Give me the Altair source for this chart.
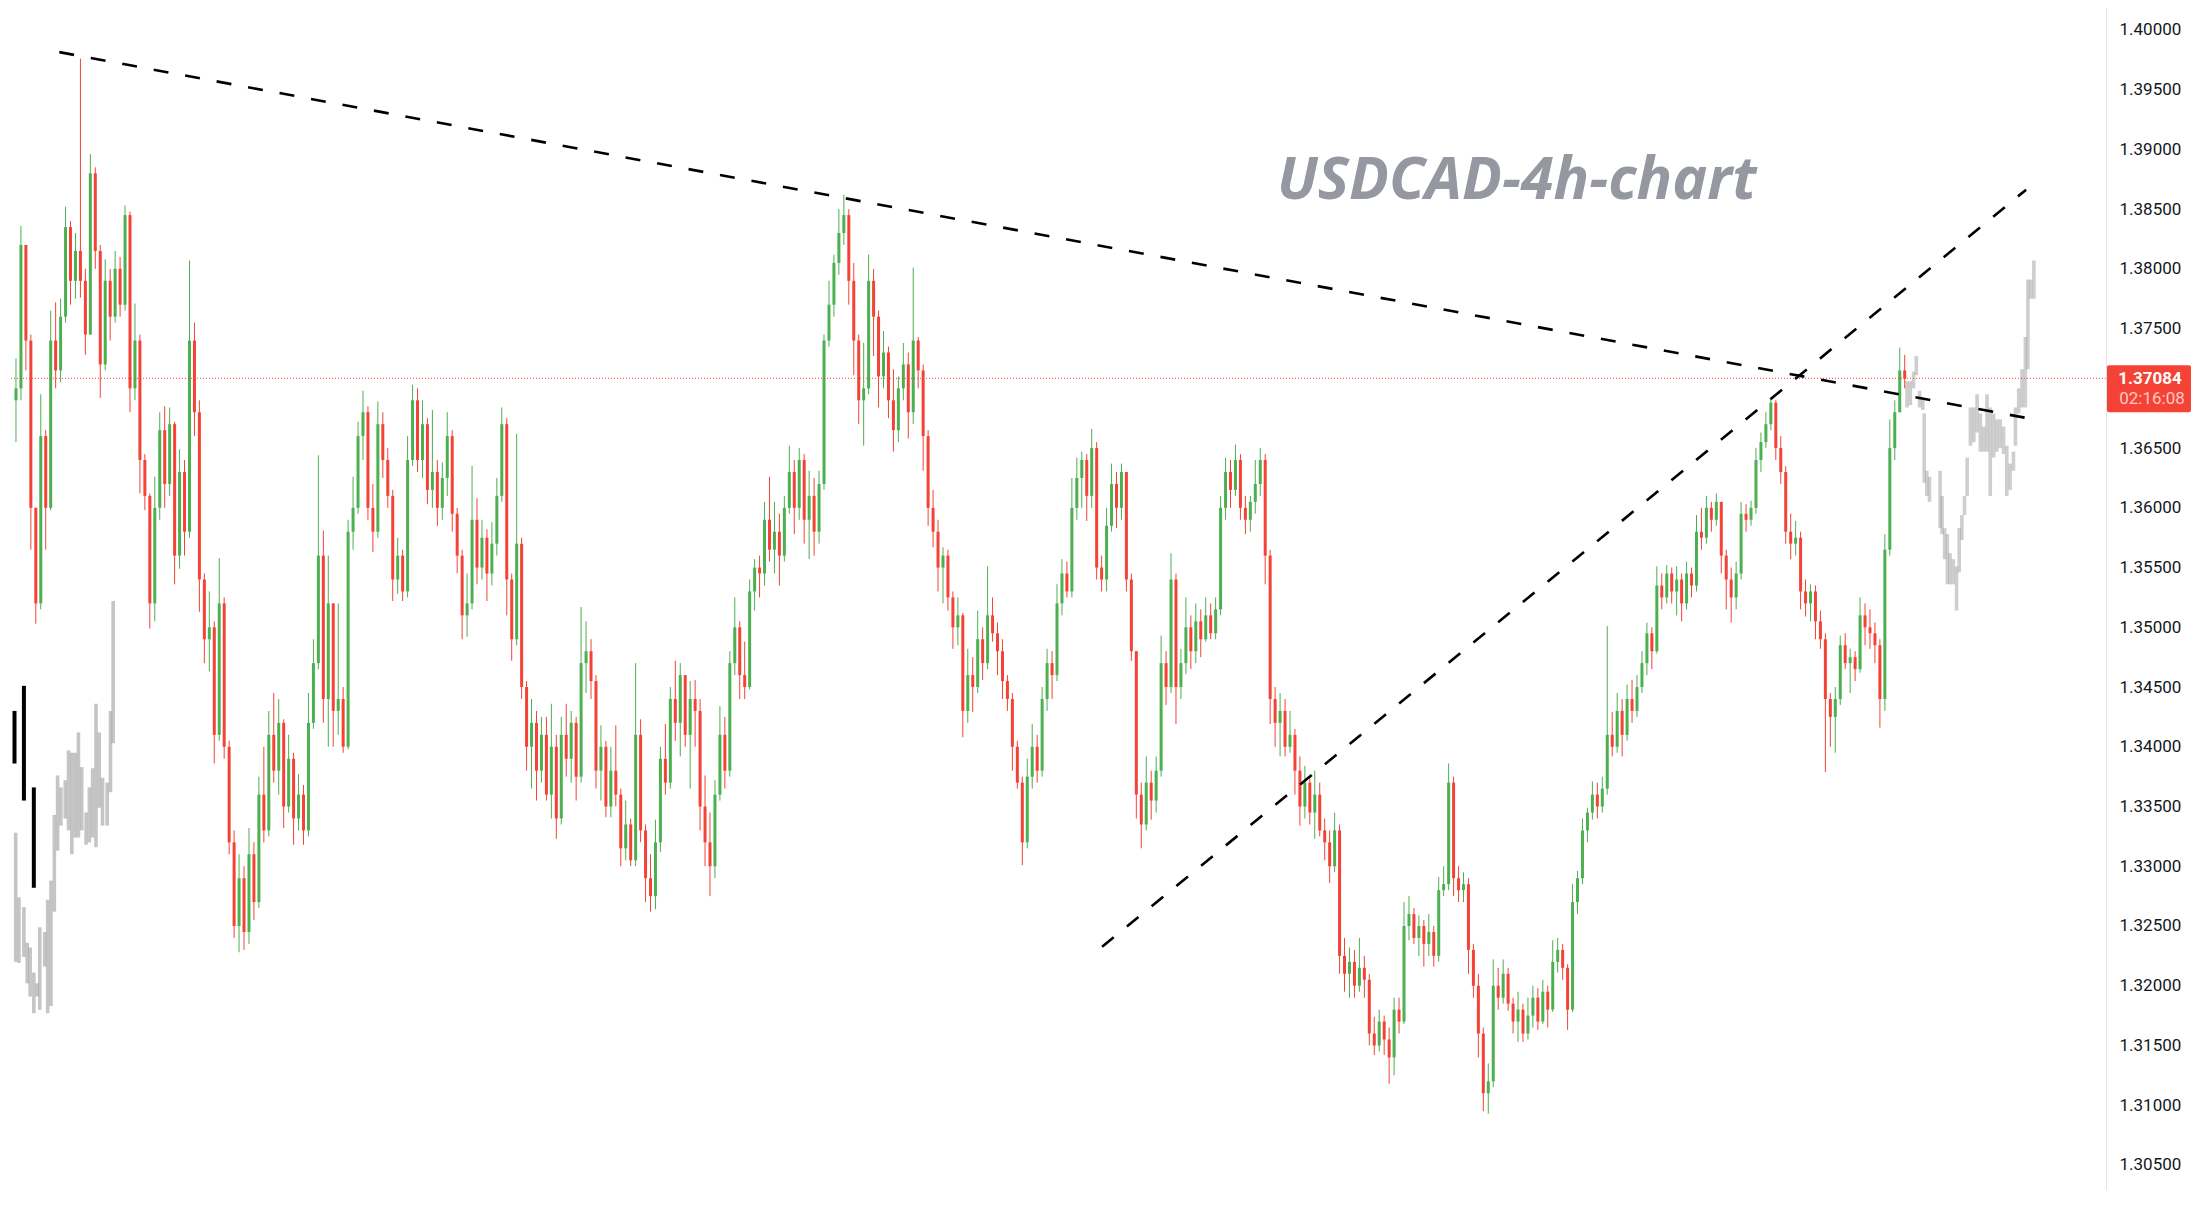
import altair as alt
import pandas as pd

# ---------------- data (prices stored as pips above BASE) ----------------
BASE = 1.30
PIP = 10000.0
FIRST_OPEN = 690

CLOSE = [
    700, 820, 740, 600, 520, 660, 600, 740, 715, 760,
    835, 790, 815, 790, 745, 880, 815, 720, 790, 760,
    800, 770, 845, 700, 740, 640, 610, 520, 600, 665,
    620, 670, 560, 630, 580, 740, 680, 540, 490, 500,
    410, 520, 400, 320, 250, 290, 245, 310, 270, 360,
    330, 410, 380, 420, 350, 390, 340, 360, 330, 420,
    470, 560, 440, 520, 430, 440, 400, 580, 600, 660,
    680, 600, 580, 670, 640, 610, 540, 560, 530, 640,
    690, 640, 670, 615, 630, 600, 625, 660, 595, 560,
    510, 520, 590, 550, 575, 545, 570, 610, 670, 540,
    490, 570, 450, 400, 420, 380, 410, 360, 400, 340,
    410, 390, 420, 375, 470, 480, 455, 380, 400, 350,
    380, 360, 315, 335, 305, 410, 330, 290, 275, 320,
    390, 370, 440, 420, 460, 410, 440, 430, 350, 320,
    300, 360, 410, 380, 470, 500, 460, 450, 530, 550,
    545, 590, 565, 580, 560, 600, 630, 600, 640, 590,
    610, 580, 620, 740, 770, 805, 830, 845, 790, 740,
    690, 700, 790, 760, 710, 730, 690, 665, 700, 720,
    680, 740, 715, 660, 600, 580, 550, 560, 525, 500,
    510, 430, 460, 450, 490, 470, 510, 495, 480, 455,
    440, 400, 370, 320, 375, 400, 380, 440, 470, 460,
    520, 545, 530, 600, 625, 640, 610, 650, 550, 540,
    585, 620, 600, 630, 540, 480, 360, 335, 370, 355,
    380, 470, 450, 540, 450, 470, 500, 480, 505, 490,
    510, 495, 515, 600, 630, 615, 640, 600, 590, 605,
    620, 640, 560, 440, 420, 430, 400, 410, 380, 350,
    370, 345, 360, 330, 320, 300, 330, 225, 210, 220,
    200, 215, 205, 160, 150, 170, 155, 140, 180, 170,
    250, 260, 240, 250, 235, 245, 225, 280, 285, 370,
    290, 280, 285, 230, 200, 160, 110, 120, 200, 190,
    210, 185, 170, 180, 160, 175, 190, 170, 195, 180,
    220, 230, 215, 180, 270, 290, 330, 345, 360, 350,
    365, 410, 400, 430, 410, 440, 430, 450, 470, 495,
    480, 535, 525, 545, 530, 540, 520, 545, 535, 580,
    575, 600, 590, 605, 560, 540, 525, 545, 595, 590,
    600, 640, 655, 670, 688, 650, 630, 580, 570, 575,
    530, 520, 530, 505, 490, 440, 425, 440, 485, 470,
    475, 465, 510, 500, 495, 485, 440, 565, 650, 680, 715, 708,
]

HIGH = [
    725, 836, 800, 745, 600, 695, 665, 765, 772, 775,
    852, 840, 830, 976, 800, 896, 885, 820, 808, 800,
    815, 810, 853, 848, 771, 745, 645, 612, 626, 680,
    685, 684, 672, 649, 640, 807, 755, 690, 545, 530,
    505, 558, 525, 405, 330, 310, 300, 332, 320, 375,
    400, 430, 445, 440, 423, 410, 395, 377, 368, 445,
    490, 644, 581, 560, 520, 520, 450, 590, 626, 672,
    698, 685, 620, 689, 680, 650, 615, 575, 565, 660,
    703, 700, 690, 675, 682, 640, 638, 680, 665, 600,
    565, 545, 635, 608, 590, 582, 588, 625, 684, 675,
    545, 662, 575, 455, 440, 430, 425, 425, 436, 410,
    425, 436, 430, 425, 517, 505, 490, 460, 418, 405,
    400, 418, 365, 355, 340, 470, 423, 335, 310, 339,
    400, 419, 450, 472, 470, 456, 455, 456, 440, 376,
    345, 372, 434, 425, 480, 525, 505, 488, 540, 557,
    560, 605, 626, 605, 595, 610, 652, 640, 650, 645,
    631, 625, 631, 745, 790, 812, 850, 862, 850, 805,
    745, 738, 812, 800, 765, 748, 735, 716, 710, 738,
    730, 801, 743, 720, 665, 615, 590, 567, 565, 530,
    525, 512, 482, 475, 514, 500, 551, 525, 504, 490,
    460, 445, 405, 375, 390, 419, 410, 450, 482, 480,
    536, 557, 555, 625, 642, 647, 645, 666, 655, 560,
    600, 637, 630, 637, 630, 545, 480, 370, 392, 380,
    392, 493, 480, 562, 545, 482, 525, 510, 520, 515,
    525, 520, 525, 610, 642, 640, 653, 645, 610, 610,
    640, 650, 645, 565, 450, 445, 440, 430, 415, 392,
    384, 375, 380, 370, 340, 330, 345, 335, 240, 232,
    230, 240, 225, 210, 174, 180, 175, 165, 190, 190,
    270, 275, 265, 259, 255, 260, 250, 291, 300, 386,
    375, 300, 295, 290, 235, 210, 165, 135, 222, 215,
    222, 215, 190, 195, 185, 190, 200, 198, 205, 200,
    238, 240, 235, 218, 285, 296, 340, 349, 371, 370,
    375, 501, 429, 445, 440, 452, 456, 460, 480, 504,
    500, 551, 545, 552, 550, 551, 545, 555, 550, 594,
    600, 610, 605, 612, 600, 565, 550, 555, 605, 603,
    606, 650, 663, 680, 692, 690, 660, 635, 595, 589,
    580, 540, 536, 535, 514, 495, 445, 450, 493, 495,
    482, 480, 525, 520, 515, 504, 490, 578, 674, 690, 734, 728,
]

LOW = [
    655, 690, 715, 565, 503, 515, 565, 598, 700, 705,
    755, 770, 775, 776, 728, 745, 800, 692, 715, 740,
    755, 760, 765, 680, 690, 612, 598, 499, 505, 590,
    600, 610, 536, 549, 560, 575, 660, 513, 470, 463,
    386, 405, 390, 310, 240, 228, 230, 235, 255, 265,
    320, 325, 370, 360, 332, 345, 318, 330, 318, 325,
    415, 465, 420, 400, 400, 410, 395, 398, 565, 595,
    640, 590, 563, 575, 625, 600, 522, 528, 522, 525,
    635, 630, 625, 603, 600, 585, 590, 610, 580, 545,
    490, 492, 515, 536, 540, 522, 535, 560, 605, 510,
    472, 485, 440, 380, 365, 355, 370, 355, 340, 323,
    335, 375, 370, 355, 370, 445, 440, 365, 355, 341,
    341, 350, 300, 305, 300, 300, 320, 270, 262, 264,
    312, 360, 365, 405, 392, 400, 365, 400, 330, 300,
    275, 290, 355, 365, 375, 460, 440, 440, 448, 514,
    525, 535, 555, 545, 535, 555, 595, 578, 590, 570,
    557, 560, 570, 615, 735, 760, 795, 820, 770, 711,
    670, 652, 695, 727, 684, 700, 675, 647, 655, 690,
    658, 670, 700, 631, 585, 567, 530, 520, 514, 482,
    485, 408, 420, 429, 445, 456, 465, 488, 460, 440,
    430, 380, 365, 301, 315, 365, 370, 375, 430, 440,
    455, 510, 525, 525, 590, 600, 589, 600, 540, 530,
    530, 580, 583, 590, 530, 472, 340, 315, 330, 339,
    345, 375, 435, 445, 419, 440, 461, 465, 470, 475,
    488, 490, 490, 510, 590, 600, 610, 590, 578, 580,
    595, 610, 536, 419, 400, 392, 392, 395, 360, 334,
    340, 335, 323, 325, 305, 286, 295, 210, 195, 190,
    190, 195, 190, 150, 142, 145, 142, 118, 125, 160,
    168, 238, 235, 225, 216, 225, 216, 220, 275, 280,
    275, 270, 270, 210, 190, 140, 95, 93, 115, 180,
    185, 179, 160, 153, 153, 155, 165, 163, 168, 165,
    178, 211, 205, 163, 178, 260, 285, 320, 339, 340,
    345, 360, 392, 395, 392, 405, 420, 425, 445, 460,
    465, 478, 515, 520, 520, 510, 505, 515, 525, 530,
    565, 570, 580, 585, 545, 515, 504, 515, 540, 580,
    585, 595, 630, 650, 665, 640, 620, 570, 557, 560,
    515, 509, 505, 490, 482, 379, 400, 395, 435, 465,
    445, 455, 462, 485, 482, 470, 416, 430, 560, 640, 690, 700,
]

# projected "bars pattern" (grey ghost bars) on the right
GHOST_X = [381.46, 382.14, 382.8, 383.34, 384.0, 384.66, 384.94, 385.46, 386.0,
           388.14, 388.54, 389.06, 389.6, 390.14, 390.8, 391.46, 392.0, 392.54,
           393.06, 393.6, 394.26, 394.94, 395.6, 396.26, 396.94, 397.6, 398.26,
           398.94, 399.6, 400.26, 400.94, 401.6, 402.26, 402.94, 403.34, 404.0,
           404.66, 405.34, 405.86, 406.4, 407.06]
GHOST_HIGH = [706, 706, 714, 727, 698, 692, 679, 631, 626,
              631, 610, 583, 578, 562, 557, 551, 583, 594,
              610, 642, 684, 684, 695, 679, 668, 695, 684,
              679, 674, 674, 668, 652, 637, 647, 684, 700,
              716, 743, 791, 791, 807]
GHOST_LOW = [684, 686, 700, 711, 684, 682, 621, 610, 605,
             583, 578, 557, 536, 536, 536, 514, 546, 573,
             594, 610, 652, 655, 663, 647, 647, 647, 610,
             642, 647, 650, 645, 610, 615, 631, 652, 679,
             684, 684, 716, 775, 775]

# grey bars pattern on the far left
LEFT_X = [-0.06, 0.6, 1.6, 2.26, 2.86, 3.6, 4.26, 4.8, 5.8, 6.4, 7.06, 7.74, 8.4,
          9.06, 9.94, 10.6, 11.26, 11.94, 12.6, 13.26, 14.14, 14.8, 15.46, 16.14,
          16.8, 17.46, 18.4, 19.06, 19.6]
LEFT_HIGH = [328, 274, 266, 236, 232, 211, 202, 249, 245, 272, 288, 343, 376, 366,
             372, 397, 395, 395, 412, 383, 345, 366, 382, 436, 412, 374, 370, 430, 522]
LEFT_LOW = [220, 219, 224, 202, 191, 177, 191, 180, 216, 177, 183, 262, 313, 334,
            340, 330, 310, 324, 324, 330, 318, 320, 324, 316, 349, 334, 334, 362, 403]

# black bars on the far left
BLACK_X = [-0.3, 1.6, 3.6]
BLACK_HIGH = [430, 451, 366]
BLACK_LOW = [386, 355, 282]

# trend lines (bar index, pips)
TREND_ID = ["down", "down", "up", "up"]
TREND_X = [8.74, 407.4, 219.1, 405.5]
TREND_V = [981.4, 673.8, 232.6, 866.3]

LAST_PRICE = 1.37084
LAST_TEXT = "1.37084"
TIMER_TEXT = "02:16:08"
TITLE_TEXT = "USDCAD-4h-chart"
TICKS = [1.305, 1.31, 1.315, 1.32, 1.325, 1.33, 1.335, 1.34, 1.345, 1.35, 1.355,
         1.36, 1.365, 1.375, 1.38, 1.385, 1.39, 1.395, 1.40]

UP_COLOR = "#4caf50"
DOWN_COLOR = "#f44336"


def px(v):
    return BASE + v / PIP


# ---------------- tables ----------------
opens = [FIRST_OPEN] + CLOSE[:-1]
candles = pd.DataFrame({
    "i": list(range(len(CLOSE))),
    "open": [px(v) for v in opens],
    "close": [px(v) for v in CLOSE],
    "high": [px(max(h, o, c)) for h, o, c in zip(HIGH, opens, CLOSE)],
    "low": [px(min(l, o, c)) for l, o, c in zip(LOW, opens, CLOSE)],
    "dir": ["up" if c >= o else "down" for o, c in zip(opens, CLOSE)],
})
ghost = pd.DataFrame({"i": GHOST_X, "high": [px(v) for v in GHOST_HIGH],
                      "low": [px(v) for v in GHOST_LOW]})
left = pd.DataFrame({"i": LEFT_X, "high": [px(v) for v in LEFT_HIGH],
                     "low": [px(v) for v in LEFT_LOW]})
black = pd.DataFrame({"i": BLACK_X, "high": [px(v) for v in BLACK_HIGH],
                      "low": [px(v) for v in BLACK_LOW]})
trend = pd.DataFrame({"id": TREND_ID, "i": TREND_X, "p": [px(v) for v in TREND_V]})
last = pd.DataFrame({"p": [LAST_PRICE]})

W, H = 2097, 1182
xs = alt.Scale(domain=[-0.4, 420.6], nice=False, zero=False)
ys = alt.Scale(domain=[1.302904, 1.401833], nice=False, zero=False)
X = lambda: alt.X("i:Q", scale=xs, axis=None)
color = alt.Color("dir:N", scale=alt.Scale(domain=["up", "down"],
                                           range=[UP_COLOR, DOWN_COLOR]), legend=None)

yaxis = alt.Axis(orient="right", values=TICKS, format=".5f", labelFont="Roboto",
                 labelFontSize=17, labelColor="#131722", ticks=False, tickSize=0,
                 labelPadding=13, domainColor="#e0e3eb", domainWidth=1, grid=False,
                 title=None, labelOverlap=False, labelFlush=False)

left_bars = alt.Chart(left).mark_bar(size=3.6, color="#9e9e9e", opacity=0.6, clip=True).encode(
    x=X(), y=alt.Y("low:Q", scale=ys, axis=yaxis), y2="high:Q")
black_bars = alt.Chart(black).mark_bar(size=4, color="#000000", clip=True).encode(
    x=X(), y=alt.Y("low:Q", scale=ys), y2="high:Q")
ghost_bars = alt.Chart(ghost).mark_bar(size=3.6, color="#9e9e9e", opacity=0.5, clip=True).encode(
    x=X(), y=alt.Y("low:Q", scale=ys), y2="high:Q")

wicks = alt.Chart(candles).mark_rule(strokeWidth=1, clip=True).encode(
    x=X(), y=alt.Y("low:Q", scale=ys), y2="high:Q", color=color)
bodies = alt.Chart(candles).mark_bar(size=3, clip=True).encode(
    x=X(), y=alt.Y("open:Q", scale=ys), y2="close:Q", color=color)

price_line = alt.Chart(last).mark_rule(color=DOWN_COLOR, strokeWidth=1, strokeDash=[1, 2]).encode(
    y=alt.Y("p:Q", scale=ys))

trend_lines = alt.Chart(trend).mark_line(color="#000000", strokeWidth=2.6,
                                         strokeDash=[15, 17], clip=True).encode(
    x=X(), y=alt.Y("p:Q", scale=ys), detail="id:N")

watermark = alt.Chart(last).mark_text(
    text=TITLE_TEXT, font="Open Sans", fontSize=59, fontWeight="bold", fontStyle="italic",
    color="#9598a1", align="left", baseline="alphabetic").encode(
    x=alt.value(1268), y=alt.value(191))

box = alt.Chart(last).mark_rect(color=DOWN_COLOR, cornerRadius=2, yOffset=-13, y2Offset=34).encode(
    x=alt.value(W + 1), x2=alt.value(W + 85), y=alt.Y("p:Q", scale=ys), y2="p:Q")
box_price = alt.Chart(last).mark_text(
    text=LAST_TEXT, font="Roboto", fontSize=17, fontWeight="bold", color="#ffffff",
    align="center", baseline="middle", dy=1).encode(
    x=alt.value(W + 44), y=alt.Y("p:Q", scale=ys))
box_timer = alt.Chart(last).mark_text(
    text=TIMER_TEXT, font="Roboto", fontSize=17, color="#fcc8c4",
    align="center", baseline="middle", dy=21).encode(
    x=alt.value(W + 46), y=alt.Y("p:Q", scale=ys))

chart = alt.layer(
    left_bars, black_bars, ghost_bars, wicks, bodies, price_line, trend_lines,
    watermark, box, box_price, box_timer
).properties(width=W, height=H, padding=0, background="#ffffff").configure_view(strokeWidth=0)

chart.save("out.html", embed_options={"renderer": "svg", "actions": False})
